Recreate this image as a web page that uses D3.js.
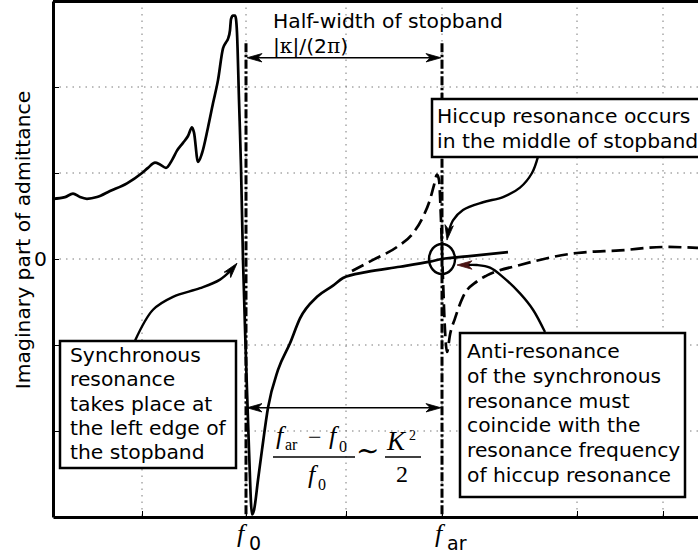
<!DOCTYPE html>
<html>
<head>
<meta charset="utf-8">
<script src="https://cdn.jsdelivr.net/npm/d3@7"></script>
<style>
  body { margin: 0; background: #fff; }
  svg { display: block; }
  text { font-family: "DejaVu Sans", sans-serif; fill: #000; }
  .serif { font-family: "Liberation Serif", "DejaVu Serif", serif; }
</style>
</head>
<body>
<svg id="chart" width="698" height="555"></svg>
<script>
// Frequency axis: offset from the synchronous resonance f0 (arbitrary units)
const xTicks = [-1.04, 0, 1.0, 1.96, 3.31, 4.17];
const yTicks = [-2, -1, 0, 1, 2];
const F0 = 0;
const FAR = 1.96;

// Imaginary part of the admittance, synchronous resonator (solid)
const syncX = [-1.93, -1.81, -1.73, -1.66, -1.59, -1.49, -1.36, -1.19, -1.04, -0.98, -0.91, -0.86, -0.80,
  -0.74, -0.69, -0.63, -0.58, -0.54, -0.52, -0.48, -0.44, -0.38, -0.33, -0.28, -0.23, -0.20, -0.18,
  -0.16, -0.15, -0.13, -0.11, -0.10, -0.09, -0.07, -0.05, -0.03, 0.00, 0.03, 0.06, 0.08, 0.12, 0.16,
  0.22, 0.32, 0.44, 0.54, 0.71, 0.87, 0.97, 1.21, 1.54, 1.84, 1.96, 2.21, 2.62];
const syncY = [0.70, 0.72, 0.76, 0.72, 0.70, 0.72, 0.79, 0.88, 1.00, 1.06, 1.12, 1.10, 1.06,
  1.15, 1.26, 1.35, 1.43, 1.53, 1.47, 1.13, 1.23, 1.53, 1.81, 2.08, 2.45, 2.52, 2.56,
  2.66, 2.79, 2.83, 2.83, 2.79, 2.63, 1.85, 1.07, -0.01, -1.17, -2.22, -2.97, -2.92, -2.57, -2.22,
  -1.73, -1.29, -0.98, -0.69, -0.44, -0.31, -0.22, -0.15, -0.09, -0.03, 0.00, 0.03, 0.08];

// Hiccup resonance (dashed)
const hiccupX = [1.06, 1.27, 1.51, 1.67, 1.77, 1.84, 1.88, 1.91, 1.93, 1.95, 1.97, 1.99, 2.01, 2.04,
  2.09, 2.17, 2.31, 2.41, 2.74, 3.31, 3.74, 4.19, 4.52];
const hiccupY = [-0.14, -0.01, 0.14, 0.30, 0.49, 0.69, 0.86, 0.98, 0.92, 0.45, -0.24, -0.83, -1.08, -0.88,
  -0.69, -0.44, -0.26, -0.19, -0.07, 0.07, 0.10, 0.14, 0.13];

// Annotation text
const halfWidthLabel = "Half-width of stopband";
const hiccupNote = ["Hiccup resonance occurs", "in the middle of stopband"];
const syncNote = ["Synchronous", "resonance", "takes place at", "the left edge of", "the stopband"];
const antiNote = ["Anti-resonance", "of the synchronous", "resonance must", "coincide with the",
  "resonance frequency", "of hiccup resonance"];
const yLabel = "Imaginary part of admittance";

const FS = 20.3;
const svg = d3.select("#chart");
const pL = 53, pT = 1, pB = 517, pR = 698;

const x = d3.scaleLinear().domain([-1.93, 4.52]).range([pL, pR]);
const y = d3.scaleLinear().domain([-3, 3]).range([pB, pT]);

// dotted grid
const grid = svg.append("g").attr("stroke", "#7a7a7a").attr("stroke-width", 1)
  .attr("stroke-dasharray", "1.5,5");
grid.selectAll("line.v").data(xTicks).join("line").attr("class", "v")
  .attr("x1", d => x(d)).attr("x2", d => x(d)).attr("y1", pT).attr("y2", pB);
grid.selectAll("line.h").data(yTicks).join("line").attr("class", "h")
  .attr("x1", pL).attr("x2", pR).attr("y1", d => y(d)).attr("y2", d => y(d));

// axes with inward ticks
const xAxis = svg.append("g").attr("transform", `translate(0,${pB})`)
  .call(d3.axisBottom(x).tickValues(xTicks).tickSizeInner(-6).tickSizeOuter(0).tickFormat(""));
xAxis.select(".domain").attr("stroke-width", 3);
const yAxis = svg.append("g").attr("transform", `translate(${pL},0)`)
  .call(d3.axisLeft(y).tickValues(yTicks).tickSizeInner(-6).tickSizeOuter(0).tickPadding(6)
    .tickFormat(d => d === 0 ? "0" : ""));
yAxis.select(".domain").attr("stroke-width", 3);
yAxis.selectAll("text").attr("font-size", FS).attr("font-family", "DejaVu Sans");
svg.append("line").attr("x1", pL).attr("x2", pR).attr("y1", pT + 0.5).attr("y2", pT + 0.5)
  .attr("stroke", "#000").attr("stroke-width", 3);

// tick labels f0 and f_ar
function freqLabel(xv, sub, dxStart) {
  const g = svg.append("g");
  g.append("text").attr("class", "serif").attr("x", x(xv) + dxStart).attr("y", 542)
    .attr("font-size", 26).attr("font-style", "italic").text("f");
  g.append("text").attr("x", x(xv) + dxStart + 12).attr("y", 550)
    .attr("font-size", 19).text(sub);
}
freqLabel(F0, "0", -9);
freqLabel(FAR, "ar", -7);

// y label
svg.append("text").attr("transform", "translate(30,240) rotate(-90)")
  .attr("text-anchor", "middle").attr("font-size", FS).text(yLabel);

// curves
const line = d3.line().x(d => x(d[0])).y(d => y(d[1])).curve(d3.curveMonotoneX);
const syncPts = syncX.map((v, i) => [v, syncY[i]]);
const hiccupPts = hiccupX.map((v, i) => [v, hiccupY[i]]);

svg.append("path").attr("d", line(hiccupPts)).attr("fill", "none").attr("stroke", "#000")
  .attr("stroke-width", 2.7).attr("stroke-dasharray", "13,6");

// stopband edges (dash-dot)
[F0, FAR].forEach(v => {
  svg.append("line").attr("x1", x(v)).attr("x2", x(v)).attr("y1", y(2.51)).attr("y2", pB)
    .attr("stroke", "#000").attr("stroke-width", 3).attr("stroke-dasharray", "9,2.5,2.5,2.5");
});

svg.append("path").attr("d", line(syncPts)).attr("fill", "none").attr("stroke", "#000")
  .attr("stroke-width", 2.7).attr("stroke-linejoin", "round");

// circle marking the coincidence point
svg.append("ellipse").attr("cx", x(FAR)).attr("cy", y(0)).attr("rx", 13).attr("ry", 15)
  .attr("fill", "none").attr("stroke", "#000").attr("stroke-width", 2.4);

// arrowheads
function arrowHead(tip, from, color) {
  const a = Math.atan2(tip[1] - from[1], tip[0] - from[0]) * 180 / Math.PI;
  const L = 15, Wd = 4.2;
  svg.append("path")
    .attr("d", `M0,0 L${-L},${-Wd} L${-L * 0.72},0 L${-L},${Wd} Z`)
    .attr("transform", `translate(${tip[0]},${tip[1]}) rotate(${a})`)
    .attr("fill", color || "#000").attr("stroke", color || "#000").attr("stroke-width", 0.8)
    .attr("stroke-linejoin", "miter");
}
function doubleArrow(yv) {
  const a = [x(F0) + 1, y(yv)], b = [x(FAR) - 1, y(yv)];
  svg.append("line").attr("x1", a[0] + 8).attr("x2", b[0] - 8).attr("y1", a[1]).attr("y2", b[1])
    .attr("stroke", "#000").attr("stroke-width", 1.5);
  arrowHead(a, b);
  arrowHead(b, a);
}
doubleArrow(2.34);
doubleArrow(-1.73);

// half-width label
svg.append("text").attr("x", 273).attr("y", 28).attr("font-size", FS).text(halfWidthLabel);
const kap = svg.append("text").attr("x", 273).attr("y", 53).attr("font-size", FS);
kap.append("tspan").text("|");
kap.append("tspan").attr("font-family", "DejaVu Serif").text("κ");
kap.append("tspan").text("|/(2");
kap.append("tspan").attr("font-family", "DejaVu Serif").text("π");
kap.append("tspan").text(")");

// curved connectors (data units)
function curvedArrow(pts, color) {
  const px = pts.map(p => [x(p[0]), y(p[1])]);
  const tip = px[px.length - 1], prev = px[px.length - 2];
  const ang = Math.atan2(tip[1] - prev[1], tip[0] - prev[0]);
  const trimmed = px.slice(0, -1).concat([[tip[0] - 9 * Math.cos(ang), tip[1] - 9 * Math.sin(ang)]]);
  svg.append("path").attr("d", d3.line().curve(d3.curveCatmullRom.alpha(0.5))(trimmed))
    .attr("fill", "none").attr("stroke", "#000").attr("stroke-width", 2.4);
  arrowHead(tip, prev, color);
}
// synchronous resonance connector
curvedArrow([[-1.11, -0.95], [-0.93, -0.59], [-0.73, -0.44], [-0.46, -0.34], [-0.26, -0.24], [-0.14, -0.12], [-0.09, -0.05]]);
// hiccup connector
curvedArrow([[2.92, 1.19], [2.86, 1.00], [2.74, 0.83], [2.57, 0.72], [2.37, 0.66], [2.17, 0.57], [2.07, 0.45], [2.02, 0.30], [2.01, 0.22]]);
// anti-resonance connector
curvedArrow([[2.99, -0.85], [2.87, -0.59], [2.74, -0.40], [2.57, -0.21], [2.44, -0.10], [2.31, -0.07], [2.11, -0.07]], "#4a1414");

// formula (f_ar - f_0)/f_0 ~ K^2/2
const fm = svg.append("g").attr("class", "formula");
function ft(xp, yp, size, txt, italic) {
  fm.append("text").attr("class", "serif").attr("x", xp).attr("y", yp).attr("font-size", size)
    .attr("font-style", italic ? "italic" : "normal").text(txt);
}
ft(276, 444, 26, "f", true); ft(285, 450, 16, "ar");
ft(308, 445, 24, "−");
ft(329, 444, 26, "f", true); ft(339, 452, 16, "0");
fm.append("line").attr("x1", 273).attr("x2", 355).attr("y1", 457).attr("y2", 457).attr("stroke", "#000").attr("stroke-width", 1.4);
ft(308, 483, 26, "f", true); ft(318, 490, 16, "0");
ft(356, 460, 28, "∼");
ft(387, 450, 27, "K", true); ft(409, 440, 14, "2");
fm.append("line").attr("x1", 385).attr("x2", 421).attr("y1", 457).attr("y2", 457).attr("stroke", "#000").attr("stroke-width", 1.4);
ft(396, 482, 24, "2");

// annotation boxes
function noteBox(bx, by, bw, bh, lines, tx, ty0, lh) {
  svg.append("rect").attr("x", bx).attr("y", by).attr("width", bw).attr("height", bh)
    .attr("fill", "#fff").attr("stroke", "#000").attr("stroke-width", 2.5);
  lines.forEach((t, i) => {
    svg.append("text").attr("x", tx).attr("y", ty0 + i * lh).attr("font-size", FS).text(t);
  });
}
noteBox(432, 99, 272, 58, hiccupNote, 437, 123, 25);
noteBox(60, 341, 176, 127, syncNote, 70, 362, 24.3);
noteBox(460, 333, 225, 164, antiNote, 467, 358, 24.8);
</script>
</body>
</html>
